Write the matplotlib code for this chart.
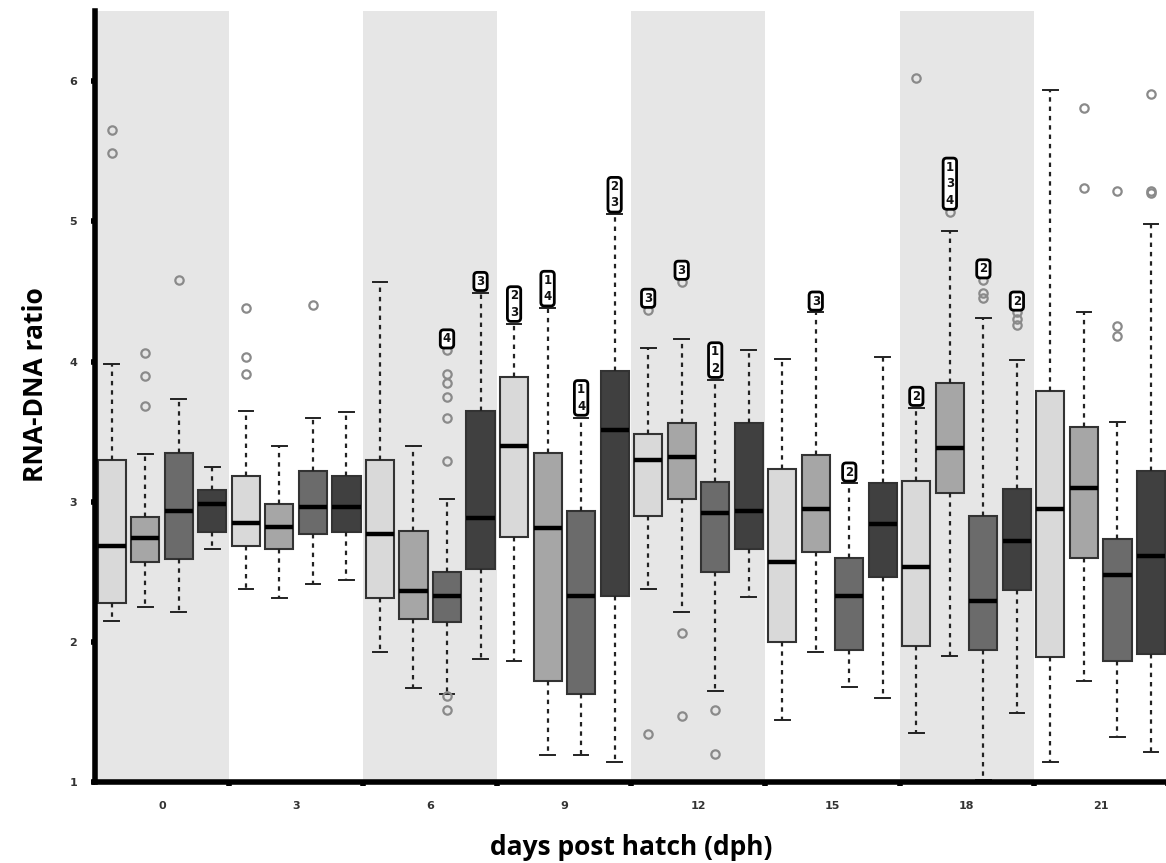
import numpy as np
import matplotlib
matplotlib.use("Agg")
import matplotlib.pyplot as plt

# ---- data ----
days = [0, 3, 6, 9, 12, 15, 18, 21]
n_groups = 4

# one entry per box, ordered day by day, group 1..4 inside each day
whislo = [2.15, 2.25, 2.21, 2.66,
          2.38, 2.31, 2.41, 2.44,
          1.93, 1.67, 1.63, 1.88,
          1.86, 1.19, 1.19, 1.14,
          2.38, 2.21, 1.65, 2.32,
          1.44, 1.93, 1.68, 1.60,
          1.35, 1.90, 1.01, 1.49,
          1.14, 1.72, 1.32, 1.21]
q1 = [2.28, 2.57, 2.59, 2.78,
      2.68, 2.66, 2.77, 2.78,
      2.31, 2.16, 2.14, 2.52,
      2.75, 1.72, 1.63, 2.33,
      2.90, 3.02, 2.50, 2.66,
      2.00, 2.64, 1.94, 2.46,
      1.97, 3.06, 1.94, 2.37,
      1.89, 2.60, 1.86, 1.91]
med = [2.68, 2.74, 2.93, 2.98,
       2.85, 2.82, 2.96, 2.96,
       2.77, 2.36, 2.33, 2.88,
       3.40, 2.81, 2.33, 3.51,
       3.30, 3.32, 2.92, 2.93,
       2.57, 2.95, 2.33, 2.84,
       2.53, 3.38, 2.29, 2.72,
       2.95, 3.10, 2.48, 2.61]
q3 = [3.30, 2.89, 3.35, 3.08,
      3.18, 2.98, 3.22, 3.18,
      3.30, 2.79, 2.50, 3.65,
      3.89, 3.35, 2.93, 3.93,
      3.48, 3.56, 3.14, 3.56,
      3.23, 3.33, 2.60, 3.13,
      3.15, 3.85, 2.90, 3.09,
      3.79, 3.53, 2.73, 3.22]
whishi = [3.98, 3.34, 3.73, 3.25,
          3.65, 3.40, 3.60, 3.64,
          4.57, 3.40, 3.02, 4.49,
          4.27, 4.38, 3.60, 5.05,
          4.10, 4.16, 3.87, 4.08,
          4.02, 4.35, 3.13, 4.03,
          3.67, 4.93, 4.31, 4.01,
          5.94, 4.35, 3.57, 4.98]
fliers = [[5.65, 5.49], [4.06, 3.90, 3.68], [4.58], [],
          [4.38, 4.03, 3.91], [], [4.40], [],
          [], [], [4.08, 3.91, 3.85, 3.75, 3.60, 3.29, 1.61, 1.51], [],
          [], [], [], [],
          [4.37, 1.34], [4.57, 2.06, 1.47], [1.51, 1.20], [],
          [], [], [], [],
          [6.02], [5.07], [4.58, 4.49, 4.45], [4.35, 4.30, 4.26],
          [], [5.81, 5.24], [5.22, 4.25, 4.18], [5.91, 5.22, 5.20]]

# significance letters above boxes (box index -> label)
notes = {10: "4", 11: "3",
         12: "2\n3", 13: "1\n4", 14: "1\n4", 15: "2\n3",
         16: "3", 17: "3", 18: "1\n2",
         21: "3", 22: "2",
         24: "2", 25: "1\n3\n4", 26: "2", 27: "2"}

box_colors = ["#d9d9d9", "#a6a6a6", "#6b6b6b", "#404040"]
shade = "#e6e6e6"


def main():
    fig = plt.figure(figsize=(11.66, 8.63), dpi=100)
    ax = fig.add_axes([0.0815, 0.094, 0.92, 0.893])

    n_box = len(med)
    pos = np.arange(n_box)

    # alternating shaded day bands
    for g in range(0, len(days), 2):
        ax.axvspan(g * n_groups - 0.5, (g + 1) * n_groups - 0.5,
                   color=shade, lw=0, zorder=0)

    stats = []
    for k in range(n_box):
        stats.append(dict(med=med[k], q1=q1[k], q3=q3[k],
                          whislo=whislo[k], whishi=whishi[k],
                          fliers=fliers[k]))

    bp = ax.bxp(stats, positions=pos, widths=0.84, patch_artist=True,
                showfliers=True,
                boxprops=dict(edgecolor="#333333", linewidth=1.5),
                medianprops=dict(color="black", linewidth=3.2),
                whiskerprops=dict(color="#222222", linewidth=1.6,
                                  linestyle=(0, (2, 2.2))),
                capprops=dict(color="#222222", linewidth=1.4),
                flierprops=dict(marker="o", markersize=6,
                                markerfacecolor="none",
                                markeredgecolor="#8a8a8a",
                                markeredgewidth=1.6))
    for k, patch in enumerate(bp["boxes"]):
        patch.set_facecolor(box_colors[k % n_groups])
        patch.set_zorder(2)
    for cap in bp["caps"]:
        x0, x1 = cap.get_xdata()
        xc = (x0 + x1) / 2
        cap.set_xdata([xc - 0.22, xc + 0.22])

    # letter boxes, sitting on the whisker or on the run of outliers above it
    for k, lab in notes.items():
        top = whishi[k]
        for f in sorted(fliers[k]):
            if top < f < top + 0.5:
                top = f
        ax.text(pos[k], top + 0.035, lab, ha="center", va="bottom",
                fontsize=8.5, fontweight="bold", linespacing=1.35,
                color="#111111", zorder=5,
                bbox=dict(boxstyle="round,pad=0.22,rounding_size=0.3",
                          facecolor="white", edgecolor="black",
                          linewidth=2.0))

    ax.set_xlim(-0.5, 31.4)
    ax.set_ylim(1, 6.5)

    for s in ("top", "right"):
        ax.spines[s].set_visible(False)
    for s in ("left", "bottom"):
        ax.spines[s].set_linewidth(4)
        ax.spines[s].set_color("black")

    ax.set_yticks([1, 2, 3, 4, 5, 6])
    ax.set_yticklabels(["1", "2", "3", "4", "5", "6"], fontsize=8,
                       fontweight="bold", color="#333333")
    ax.tick_params(axis="y", length=3, width=4, pad=10)

    # ticks at day borders, labels at day centres
    ax.set_xticks([g * n_groups - 0.5 for g in range(1, len(days) + 1)])
    ax.set_xticklabels([])
    ax.tick_params(axis="x", which="major", length=3, width=4)
    ax.set_xticks([g * n_groups + 1.5 for g in range(len(days))], minor=True)
    ax.set_xticklabels([str(d) for d in days], minor=True, fontsize=8,
                       fontweight="bold", color="#333333")
    ax.tick_params(axis="x", which="minor", length=0, pad=14)

    ax.set_ylabel("RNA-DNA ratio", fontsize=19, fontweight="bold",
                  family="Open Sans")
    ax.yaxis.set_label_coords(-0.043, 0.515)
    ax.set_xlabel("days post hatch (dph)", fontsize=19, fontweight="bold",
                  family="Open Sans")
    ax.xaxis.set_label_coords(0.5, -0.068)

    fig.savefig("out.png", dpi=100)


if __name__ == "__main__":
    main()
